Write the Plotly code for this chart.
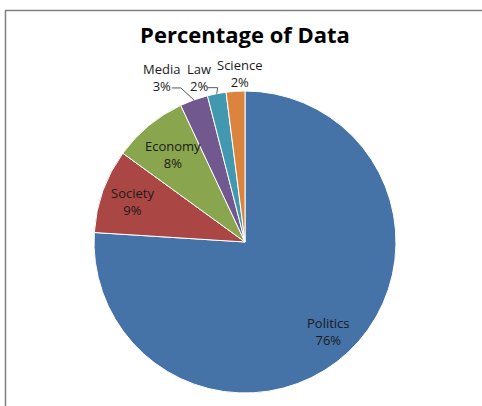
import math
import plotly.graph_objects as go

categories = ["Politics", "Society", "Economy", "Media", "Law", "Science"]
values = [76, 9, 8, 3, 2, 2]
colors = ["#4572A7", "#AA4643", "#89A54E", "#71588F", "#4198AF", "#DB843D"]

W, H = 482, 406
# pie geometry in pixels
cx, cy, R = 245, 242, 151

# label placement style: (mode, radial fraction or offsets)
label_style = {
    "Politics": ("in", 0.81),
    "Society": ("in", 0.79),
    "Economy": ("in", 0.75),
    "Media": ("out", (-32, -22)),
    "Law": ("out", (-18, -16)),
    "Science": ("out", (4, -18)),
}
leader = {
    "Media": [(-13, -12), (-22, -12)],
    "Law": [(1, -6), (-9, -6)],
}

def px2paper(x, y):
    return x / W, 1 - y / H

fig = go.Figure(go.Pie(
    labels=categories, values=values, sort=False, direction="clockwise", rotation=0,
    marker=dict(colors=colors, line=dict(color="white", width=1)),
    textinfo="none",
    domain=dict(x=[(cx - R) / W, (cx + R) / W], y=[1 - (cy + R) / H, 1 - (cy - R) / H]),
    automargin=False, showlegend=False, hoverinfo="label+percent",
))

annotations = []
shapes = [dict(type="rect", xref="paper", yref="paper", x0=5.5 / W, x1=1.02, y0=-0.02, y1=1 - 10.5 / H,
               line=dict(color="#7f7f7f", width=1.5))]
total = sum(values)
cum = 0
for cat, v in zip(categories, values):
    mid = (cum + v / 2) / total * 2 * math.pi
    cum += v
    sx, sy = math.sin(mid), -math.cos(mid)
    mode, p = label_style[cat]
    if mode == "in":
        lx, ly = cx + p * R * sx, cy + p * R * sy
    else:
        ax, ay = cx + R * sx, cy + R * sy
        lx, ly = ax + p[0], ay + p[1]
        if cat in leader:
            pts = [(ax, ay)] + [(ax + dx, ay + dy) for dx, dy in leader[cat]]
            path = "M " + " L ".join(f"{px2paper(x, y)[0]:.5f},{px2paper(x, y)[1]:.5f}" for x, y in pts)
            shapes.append(dict(type="path", xref="paper", yref="paper", path=path,
                               line=dict(color="#595959", width=1)))
    x, y = px2paper(lx, ly)
    annotations.append(dict(x=x, y=y, xref="paper", yref="paper", xanchor="center", yanchor="middle",
                            text=f"{cat}<br>{v}%", showarrow=False, align="center",
                            font=dict(family="Open Sans", size=13, color="#1a1a1a")))

fig.update_layout(
    width=W, height=H, margin=dict(l=0, r=0, t=0, b=0),
    paper_bgcolor="white",
    title=dict(text="<b>Percentage of Data</b>", x=245 / W, xanchor="center", y=1 - 35 / H, yanchor="middle",
               font=dict(family="Open Sans", size=22, color="black")),
    shapes=shapes, annotations=annotations,
)
fig.write_html("out.html", config={"displayModeBar": False},
               post_script="document.body.style.margin='0';document.body.style.overflow='hidden';")
